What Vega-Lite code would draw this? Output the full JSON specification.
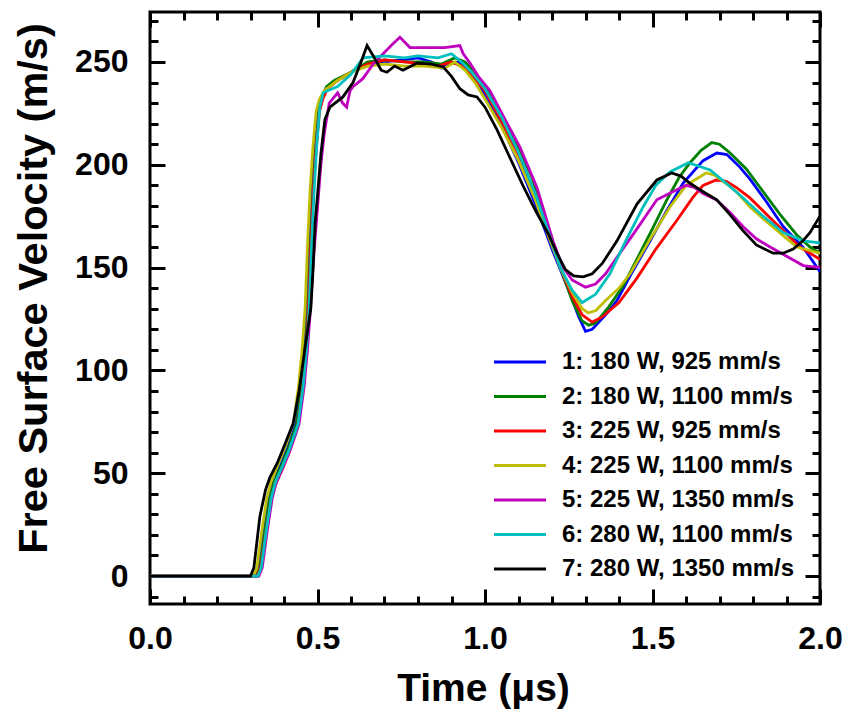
{
  "$schema": "https://vega.github.io/schema/vega-lite/v6.json",
  "width": 670,
  "height": 592,
  "autosize": {"type": "none"},
  "padding": {"left": 150, "top": 12, "right": 39, "bottom": 109},
  "background": "white",
  "config": {
    "view": {"stroke": "black", "strokeWidth": 3},
    "axis": {
      "domain": false, "grid": false, "tickColor": "black", "tickWidth": 3,
      "labelFont": "Liberation Sans", "labelFontWeight": "bold", "labelFontSize": 32, "labelColor": "black",
      "labelFlush": false, "labelOverlap": false, "labelBound": false,
      "titleFont": "Liberation Sans", "titleFontWeight": "bold", "titleFontSize": 39, "titleColor": "black"
    }
  },
  "datasets": {
    "curves": [
      {"s":"1: 180 W, 925 mm/s","t":0,"v":0},{"s":"1: 180 W, 925 mm/s","t":0.315,"v":0},{"s":"1: 180 W, 925 mm/s","t":0.325,"v":4},{"s":"1: 180 W, 925 mm/s","t":0.34,"v":22},{"s":"1: 180 W, 925 mm/s","t":0.355,"v":38},{"s":"1: 180 W, 925 mm/s","t":0.368,"v":46},{"s":"1: 180 W, 925 mm/s","t":0.39,"v":54},{"s":"1: 180 W, 925 mm/s","t":0.41,"v":62},{"s":"1: 180 W, 925 mm/s","t":0.435,"v":74},{"s":"1: 180 W, 925 mm/s","t":0.45,"v":92},{"s":"1: 180 W, 925 mm/s","t":0.46,"v":110},{"s":"1: 180 W, 925 mm/s","t":0.469,"v":130},{"s":"1: 180 W, 925 mm/s","t":0.476,"v":160},{"s":"1: 180 W, 925 mm/s","t":0.484,"v":188},{"s":"1: 180 W, 925 mm/s","t":0.492,"v":208},{"s":"1: 180 W, 925 mm/s","t":0.502,"v":226},{"s":"1: 180 W, 925 mm/s","t":0.512,"v":233},{"s":"1: 180 W, 925 mm/s","t":0.525,"v":237},{"s":"1: 180 W, 925 mm/s","t":0.55,"v":240},{"s":"1: 180 W, 925 mm/s","t":0.58,"v":243},{"s":"1: 180 W, 925 mm/s","t":0.61,"v":246},{"s":"1: 180 W, 925 mm/s","t":0.65,"v":249},{"s":"1: 180 W, 925 mm/s","t":0.7,"v":250},{"s":"1: 180 W, 925 mm/s","t":0.75,"v":251},{"s":"1: 180 W, 925 mm/s","t":0.8,"v":252},{"s":"1: 180 W, 925 mm/s","t":0.84,"v":250},{"s":"1: 180 W, 925 mm/s","t":0.87,"v":247},{"s":"1: 180 W, 925 mm/s","t":0.89,"v":249},{"s":"1: 180 W, 925 mm/s","t":0.92,"v":250},{"s":"1: 180 W, 925 mm/s","t":0.95,"v":246},{"s":"1: 180 W, 925 mm/s","t":0.98,"v":240},{"s":"1: 180 W, 925 mm/s","t":1.0,"v":234},{"s":"1: 180 W, 925 mm/s","t":1.05,"v":219},{"s":"1: 180 W, 925 mm/s","t":1.1,"v":201},{"s":"1: 180 W, 925 mm/s","t":1.15,"v":181},{"s":"1: 180 W, 925 mm/s","t":1.2,"v":159},{"s":"1: 180 W, 925 mm/s","t":1.225,"v":149},{"s":"1: 180 W, 925 mm/s","t":1.25,"v":139},{"s":"1: 180 W, 925 mm/s","t":1.28,"v":126},{"s":"1: 180 W, 925 mm/s","t":1.3,"v":119},{"s":"1: 180 W, 925 mm/s","t":1.32,"v":120},{"s":"1: 180 W, 925 mm/s","t":1.36,"v":127},{"s":"1: 180 W, 925 mm/s","t":1.394,"v":134},{"s":"1: 180 W, 925 mm/s","t":1.44,"v":148},{"s":"1: 180 W, 925 mm/s","t":1.493,"v":163},{"s":"1: 180 W, 925 mm/s","t":1.54,"v":177},{"s":"1: 180 W, 925 mm/s","t":1.591,"v":191},{"s":"1: 180 W, 925 mm/s","t":1.651,"v":202},{"s":"1: 180 W, 925 mm/s","t":1.692,"v":205.7},{"s":"1: 180 W, 925 mm/s","t":1.722,"v":205},{"s":"1: 180 W, 925 mm/s","t":1.76,"v":199},{"s":"1: 180 W, 925 mm/s","t":1.791,"v":193},{"s":"1: 180 W, 925 mm/s","t":1.84,"v":182},{"s":"1: 180 W, 925 mm/s","t":1.89,"v":170},{"s":"1: 180 W, 925 mm/s","t":1.949,"v":160},{"s":"1: 180 W, 925 mm/s","t":2.0,"v":148},

      {"s":"2: 180 W, 1100 mm/s","t":0,"v":0},{"s":"2: 180 W, 1100 mm/s","t":0.318,"v":0},{"s":"2: 180 W, 1100 mm/s","t":0.328,"v":4},{"s":"2: 180 W, 1100 mm/s","t":0.343,"v":22},{"s":"2: 180 W, 1100 mm/s","t":0.358,"v":38},{"s":"2: 180 W, 1100 mm/s","t":0.371,"v":46},{"s":"2: 180 W, 1100 mm/s","t":0.393,"v":54},{"s":"2: 180 W, 1100 mm/s","t":0.413,"v":62},{"s":"2: 180 W, 1100 mm/s","t":0.438,"v":74},{"s":"2: 180 W, 1100 mm/s","t":0.453,"v":92},{"s":"2: 180 W, 1100 mm/s","t":0.463,"v":110},{"s":"2: 180 W, 1100 mm/s","t":0.472,"v":130},{"s":"2: 180 W, 1100 mm/s","t":0.479,"v":160},{"s":"2: 180 W, 1100 mm/s","t":0.487,"v":188},{"s":"2: 180 W, 1100 mm/s","t":0.495,"v":208},{"s":"2: 180 W, 1100 mm/s","t":0.505,"v":226},{"s":"2: 180 W, 1100 mm/s","t":0.515,"v":233},{"s":"2: 180 W, 1100 mm/s","t":0.527,"v":238},{"s":"2: 180 W, 1100 mm/s","t":0.55,"v":241},{"s":"2: 180 W, 1100 mm/s","t":0.6,"v":245},{"s":"2: 180 W, 1100 mm/s","t":0.65,"v":250},{"s":"2: 180 W, 1100 mm/s","t":0.7,"v":251},{"s":"2: 180 W, 1100 mm/s","t":0.76,"v":250},{"s":"2: 180 W, 1100 mm/s","t":0.82,"v":250},{"s":"2: 180 W, 1100 mm/s","t":0.87,"v":249},{"s":"2: 180 W, 1100 mm/s","t":0.91,"v":252},{"s":"2: 180 W, 1100 mm/s","t":0.94,"v":250},{"s":"2: 180 W, 1100 mm/s","t":0.965,"v":246},{"s":"2: 180 W, 1100 mm/s","t":1.0,"v":238},{"s":"2: 180 W, 1100 mm/s","t":1.024,"v":231.5},{"s":"2: 180 W, 1100 mm/s","t":1.06,"v":221},{"s":"2: 180 W, 1100 mm/s","t":1.095,"v":210},{"s":"2: 180 W, 1100 mm/s","t":1.14,"v":194},{"s":"2: 180 W, 1100 mm/s","t":1.18,"v":174},{"s":"2: 180 W, 1100 mm/s","t":1.225,"v":150},{"s":"2: 180 W, 1100 mm/s","t":1.26,"v":134},{"s":"2: 180 W, 1100 mm/s","t":1.29,"v":124},{"s":"2: 180 W, 1100 mm/s","t":1.31,"v":122},{"s":"2: 180 W, 1100 mm/s","t":1.33,"v":123},{"s":"2: 180 W, 1100 mm/s","t":1.37,"v":131},{"s":"2: 180 W, 1100 mm/s","t":1.412,"v":141},{"s":"2: 180 W, 1100 mm/s","t":1.45,"v":153},{"s":"2: 180 W, 1100 mm/s","t":1.5,"v":169},{"s":"2: 180 W, 1100 mm/s","t":1.543,"v":183},{"s":"2: 180 W, 1100 mm/s","t":1.58,"v":194},{"s":"2: 180 W, 1100 mm/s","t":1.612,"v":201},{"s":"2: 180 W, 1100 mm/s","t":1.645,"v":207},{"s":"2: 180 W, 1100 mm/s","t":1.677,"v":210.8},{"s":"2: 180 W, 1100 mm/s","t":1.7,"v":210},{"s":"2: 180 W, 1100 mm/s","t":1.73,"v":206},{"s":"2: 180 W, 1100 mm/s","t":1.78,"v":198},{"s":"2: 180 W, 1100 mm/s","t":1.83,"v":187},{"s":"2: 180 W, 1100 mm/s","t":1.88,"v":176},{"s":"2: 180 W, 1100 mm/s","t":1.93,"v":166},{"s":"2: 180 W, 1100 mm/s","t":1.97,"v":160},{"s":"2: 180 W, 1100 mm/s","t":2.0,"v":157},

      {"s":"3: 225 W, 925 mm/s","t":0,"v":0},{"s":"3: 225 W, 925 mm/s","t":0.32,"v":0},{"s":"3: 225 W, 925 mm/s","t":0.33,"v":4},{"s":"3: 225 W, 925 mm/s","t":0.345,"v":20},{"s":"3: 225 W, 925 mm/s","t":0.36,"v":36},{"s":"3: 225 W, 925 mm/s","t":0.373,"v":44},{"s":"3: 225 W, 925 mm/s","t":0.395,"v":52},{"s":"3: 225 W, 925 mm/s","t":0.415,"v":60},{"s":"3: 225 W, 925 mm/s","t":0.44,"v":72},{"s":"3: 225 W, 925 mm/s","t":0.455,"v":90},{"s":"3: 225 W, 925 mm/s","t":0.465,"v":108},{"s":"3: 225 W, 925 mm/s","t":0.473,"v":130},{"s":"3: 225 W, 925 mm/s","t":0.48,"v":160},{"s":"3: 225 W, 925 mm/s","t":0.488,"v":188},{"s":"3: 225 W, 925 mm/s","t":0.496,"v":208},{"s":"3: 225 W, 925 mm/s","t":0.506,"v":226},{"s":"3: 225 W, 925 mm/s","t":0.516,"v":232},{"s":"3: 225 W, 925 mm/s","t":0.53,"v":237},{"s":"3: 225 W, 925 mm/s","t":0.56,"v":241},{"s":"3: 225 W, 925 mm/s","t":0.6,"v":245},{"s":"3: 225 W, 925 mm/s","t":0.65,"v":249},{"s":"3: 225 W, 925 mm/s","t":0.7,"v":251},{"s":"3: 225 W, 925 mm/s","t":0.76,"v":250},{"s":"3: 225 W, 925 mm/s","t":0.82,"v":249},{"s":"3: 225 W, 925 mm/s","t":0.86,"v":248},{"s":"3: 225 W, 925 mm/s","t":0.9,"v":250},{"s":"3: 225 W, 925 mm/s","t":0.93,"v":248},{"s":"3: 225 W, 925 mm/s","t":0.96,"v":244},{"s":"3: 225 W, 925 mm/s","t":1.0,"v":236},{"s":"3: 225 W, 925 mm/s","t":1.05,"v":221},{"s":"3: 225 W, 925 mm/s","t":1.1,"v":205},{"s":"3: 225 W, 925 mm/s","t":1.15,"v":186},{"s":"3: 225 W, 925 mm/s","t":1.19,"v":166},{"s":"3: 225 W, 925 mm/s","t":1.225,"v":150},{"s":"3: 225 W, 925 mm/s","t":1.26,"v":136},{"s":"3: 225 W, 925 mm/s","t":1.29,"v":127},{"s":"3: 225 W, 925 mm/s","t":1.32,"v":123.5},{"s":"3: 225 W, 925 mm/s","t":1.35,"v":126},{"s":"3: 225 W, 925 mm/s","t":1.4,"v":133},{"s":"3: 225 W, 925 mm/s","t":1.454,"v":145},{"s":"3: 225 W, 925 mm/s","t":1.51,"v":159},{"s":"3: 225 W, 925 mm/s","t":1.573,"v":173},{"s":"3: 225 W, 925 mm/s","t":1.62,"v":184},{"s":"3: 225 W, 925 mm/s","t":1.651,"v":190},{"s":"3: 225 W, 925 mm/s","t":1.69,"v":192.6},{"s":"3: 225 W, 925 mm/s","t":1.72,"v":192},{"s":"3: 225 W, 925 mm/s","t":1.75,"v":189},{"s":"3: 225 W, 925 mm/s","t":1.79,"v":184},{"s":"3: 225 W, 925 mm/s","t":1.84,"v":176},{"s":"3: 225 W, 925 mm/s","t":1.89,"v":168},{"s":"3: 225 W, 925 mm/s","t":1.94,"v":160},{"s":"3: 225 W, 925 mm/s","t":2.0,"v":154},

      {"s":"4: 225 W, 1100 mm/s","t":0,"v":0},{"s":"4: 225 W, 1100 mm/s","t":0.309,"v":0},{"s":"4: 225 W, 1100 mm/s","t":0.319,"v":4},{"s":"4: 225 W, 1100 mm/s","t":0.334,"v":22},{"s":"4: 225 W, 1100 mm/s","t":0.349,"v":38},{"s":"4: 225 W, 1100 mm/s","t":0.362,"v":46},{"s":"4: 225 W, 1100 mm/s","t":0.384,"v":55},{"s":"4: 225 W, 1100 mm/s","t":0.404,"v":63},{"s":"4: 225 W, 1100 mm/s","t":0.429,"v":75},{"s":"4: 225 W, 1100 mm/s","t":0.444,"v":93},{"s":"4: 225 W, 1100 mm/s","t":0.454,"v":110},{"s":"4: 225 W, 1100 mm/s","t":0.463,"v":130},{"s":"4: 225 W, 1100 mm/s","t":0.47,"v":160},{"s":"4: 225 W, 1100 mm/s","t":0.478,"v":188},{"s":"4: 225 W, 1100 mm/s","t":0.486,"v":208},{"s":"4: 225 W, 1100 mm/s","t":0.496,"v":226},{"s":"4: 225 W, 1100 mm/s","t":0.506,"v":232},{"s":"4: 225 W, 1100 mm/s","t":0.52,"v":236},{"s":"4: 225 W, 1100 mm/s","t":0.56,"v":241},{"s":"4: 225 W, 1100 mm/s","t":0.6,"v":245},{"s":"4: 225 W, 1100 mm/s","t":0.65,"v":248},{"s":"4: 225 W, 1100 mm/s","t":0.7,"v":249},{"s":"4: 225 W, 1100 mm/s","t":0.76,"v":248},{"s":"4: 225 W, 1100 mm/s","t":0.82,"v":248},{"s":"4: 225 W, 1100 mm/s","t":0.88,"v":247},{"s":"4: 225 W, 1100 mm/s","t":0.91,"v":250},{"s":"4: 225 W, 1100 mm/s","t":0.94,"v":246},{"s":"4: 225 W, 1100 mm/s","t":0.97,"v":240},{"s":"4: 225 W, 1100 mm/s","t":1.0,"v":232},{"s":"4: 225 W, 1100 mm/s","t":1.05,"v":218},{"s":"4: 225 W, 1100 mm/s","t":1.1,"v":202},{"s":"4: 225 W, 1100 mm/s","t":1.15,"v":183},{"s":"4: 225 W, 1100 mm/s","t":1.19,"v":165},{"s":"4: 225 W, 1100 mm/s","t":1.225,"v":150},{"s":"4: 225 W, 1100 mm/s","t":1.26,"v":138},{"s":"4: 225 W, 1100 mm/s","t":1.29,"v":130},{"s":"4: 225 W, 1100 mm/s","t":1.308,"v":128},{"s":"4: 225 W, 1100 mm/s","t":1.33,"v":129},{"s":"4: 225 W, 1100 mm/s","t":1.36,"v":134},{"s":"4: 225 W, 1100 mm/s","t":1.4,"v":140},{"s":"4: 225 W, 1100 mm/s","t":1.433,"v":147},{"s":"4: 225 W, 1100 mm/s","t":1.49,"v":163},{"s":"4: 225 W, 1100 mm/s","t":1.552,"v":179.5},{"s":"4: 225 W, 1100 mm/s","t":1.6,"v":190},{"s":"4: 225 W, 1100 mm/s","t":1.66,"v":196},{"s":"4: 225 W, 1100 mm/s","t":1.685,"v":195},{"s":"4: 225 W, 1100 mm/s","t":1.71,"v":192},{"s":"4: 225 W, 1100 mm/s","t":1.75,"v":187},{"s":"4: 225 W, 1100 mm/s","t":1.791,"v":179.5},{"s":"4: 225 W, 1100 mm/s","t":1.85,"v":171},{"s":"4: 225 W, 1100 mm/s","t":1.931,"v":160},{"s":"4: 225 W, 1100 mm/s","t":2.0,"v":157},

      {"s":"5: 225 W, 1350 mm/s","t":0,"v":0},{"s":"5: 225 W, 1350 mm/s","t":0.325,"v":0},{"s":"5: 225 W, 1350 mm/s","t":0.335,"v":4},{"s":"5: 225 W, 1350 mm/s","t":0.35,"v":22},{"s":"5: 225 W, 1350 mm/s","t":0.365,"v":38},{"s":"5: 225 W, 1350 mm/s","t":0.378,"v":46},{"s":"5: 225 W, 1350 mm/s","t":0.4,"v":54},{"s":"5: 225 W, 1350 mm/s","t":0.42,"v":62},{"s":"5: 225 W, 1350 mm/s","t":0.445,"v":74},{"s":"5: 225 W, 1350 mm/s","t":0.46,"v":92},{"s":"5: 225 W, 1350 mm/s","t":0.47,"v":110},{"s":"5: 225 W, 1350 mm/s","t":0.479,"v":130},{"s":"5: 225 W, 1350 mm/s","t":0.487,"v":152},{"s":"5: 225 W, 1350 mm/s","t":0.498,"v":175},{"s":"5: 225 W, 1350 mm/s","t":0.51,"v":200},{"s":"5: 225 W, 1350 mm/s","t":0.52,"v":215},{"s":"5: 225 W, 1350 mm/s","t":0.535,"v":230},{"s":"5: 225 W, 1350 mm/s","t":0.56,"v":235},{"s":"5: 225 W, 1350 mm/s","t":0.575,"v":230},{"s":"5: 225 W, 1350 mm/s","t":0.587,"v":228},{"s":"5: 225 W, 1350 mm/s","t":0.597,"v":236},{"s":"5: 225 W, 1350 mm/s","t":0.606,"v":238},{"s":"5: 225 W, 1350 mm/s","t":0.636,"v":242},{"s":"5: 225 W, 1350 mm/s","t":0.666,"v":249},{"s":"5: 225 W, 1350 mm/s","t":0.696,"v":254},{"s":"5: 225 W, 1350 mm/s","t":0.72,"v":258},{"s":"5: 225 W, 1350 mm/s","t":0.746,"v":262},{"s":"5: 225 W, 1350 mm/s","t":0.776,"v":257},{"s":"5: 225 W, 1350 mm/s","t":0.836,"v":257},{"s":"5: 225 W, 1350 mm/s","t":0.88,"v":257},{"s":"5: 225 W, 1350 mm/s","t":0.925,"v":258},{"s":"5: 225 W, 1350 mm/s","t":0.935,"v":254},{"s":"5: 225 W, 1350 mm/s","t":0.955,"v":249.5},{"s":"5: 225 W, 1350 mm/s","t":0.98,"v":243},{"s":"5: 225 W, 1350 mm/s","t":1.015,"v":236},{"s":"5: 225 W, 1350 mm/s","t":1.06,"v":222},{"s":"5: 225 W, 1350 mm/s","t":1.104,"v":208.7},{"s":"5: 225 W, 1350 mm/s","t":1.155,"v":189},{"s":"5: 225 W, 1350 mm/s","t":1.203,"v":163},{"s":"5: 225 W, 1350 mm/s","t":1.23,"v":151},{"s":"5: 225 W, 1350 mm/s","t":1.26,"v":144},{"s":"5: 225 W, 1350 mm/s","t":1.3,"v":140.5},{"s":"5: 225 W, 1350 mm/s","t":1.33,"v":142},{"s":"5: 225 W, 1350 mm/s","t":1.36,"v":147},{"s":"5: 225 W, 1350 mm/s","t":1.394,"v":155},{"s":"5: 225 W, 1350 mm/s","t":1.45,"v":168},{"s":"5: 225 W, 1350 mm/s","t":1.513,"v":183},{"s":"5: 225 W, 1350 mm/s","t":1.55,"v":186},{"s":"5: 225 W, 1350 mm/s","t":1.6,"v":190},{"s":"5: 225 W, 1350 mm/s","t":1.625,"v":189},{"s":"5: 225 W, 1350 mm/s","t":1.651,"v":186},{"s":"5: 225 W, 1350 mm/s","t":1.69,"v":183},{"s":"5: 225 W, 1350 mm/s","t":1.73,"v":177},{"s":"5: 225 W, 1350 mm/s","t":1.77,"v":170},{"s":"5: 225 W, 1350 mm/s","t":1.81,"v":164},{"s":"5: 225 W, 1350 mm/s","t":1.851,"v":160},{"s":"5: 225 W, 1350 mm/s","t":1.95,"v":151},{"s":"5: 225 W, 1350 mm/s","t":2.0,"v":150},

      {"s":"6: 280 W, 1100 mm/s","t":0,"v":0},{"s":"6: 280 W, 1100 mm/s","t":0.322,"v":0},{"s":"6: 280 W, 1100 mm/s","t":0.332,"v":4},{"s":"6: 280 W, 1100 mm/s","t":0.347,"v":22},{"s":"6: 280 W, 1100 mm/s","t":0.362,"v":38},{"s":"6: 280 W, 1100 mm/s","t":0.375,"v":46},{"s":"6: 280 W, 1100 mm/s","t":0.397,"v":54},{"s":"6: 280 W, 1100 mm/s","t":0.417,"v":62},{"s":"6: 280 W, 1100 mm/s","t":0.442,"v":74},{"s":"6: 280 W, 1100 mm/s","t":0.457,"v":92},{"s":"6: 280 W, 1100 mm/s","t":0.467,"v":110},{"s":"6: 280 W, 1100 mm/s","t":0.475,"v":130},{"s":"6: 280 W, 1100 mm/s","t":0.482,"v":160},{"s":"6: 280 W, 1100 mm/s","t":0.49,"v":188},{"s":"6: 280 W, 1100 mm/s","t":0.498,"v":210},{"s":"6: 280 W, 1100 mm/s","t":0.507,"v":228},{"s":"6: 280 W, 1100 mm/s","t":0.517,"v":235},{"s":"6: 280 W, 1100 mm/s","t":0.53,"v":236},{"s":"6: 280 W, 1100 mm/s","t":0.56,"v":238},{"s":"6: 280 W, 1100 mm/s","t":0.6,"v":244},{"s":"6: 280 W, 1100 mm/s","t":0.636,"v":252},{"s":"6: 280 W, 1100 mm/s","t":0.7,"v":253},{"s":"6: 280 W, 1100 mm/s","t":0.76,"v":252},{"s":"6: 280 W, 1100 mm/s","t":0.8,"v":253},{"s":"6: 280 W, 1100 mm/s","t":0.86,"v":252},{"s":"6: 280 W, 1100 mm/s","t":0.9,"v":254},{"s":"6: 280 W, 1100 mm/s","t":0.93,"v":250},{"s":"6: 280 W, 1100 mm/s","t":0.96,"v":245},{"s":"6: 280 W, 1100 mm/s","t":1.0,"v":237},{"s":"6: 280 W, 1100 mm/s","t":1.05,"v":223},{"s":"6: 280 W, 1100 mm/s","t":1.1,"v":206},{"s":"6: 280 W, 1100 mm/s","t":1.15,"v":186},{"s":"6: 280 W, 1100 mm/s","t":1.19,"v":167},{"s":"6: 280 W, 1100 mm/s","t":1.225,"v":150},{"s":"6: 280 W, 1100 mm/s","t":1.26,"v":139},{"s":"6: 280 W, 1100 mm/s","t":1.29,"v":133},{"s":"6: 280 W, 1100 mm/s","t":1.33,"v":137},{"s":"6: 280 W, 1100 mm/s","t":1.373,"v":147},{"s":"6: 280 W, 1100 mm/s","t":1.42,"v":163},{"s":"6: 280 W, 1100 mm/s","t":1.472,"v":179.5},{"s":"6: 280 W, 1100 mm/s","t":1.51,"v":190},{"s":"6: 280 W, 1100 mm/s","t":1.552,"v":196.5},{"s":"6: 280 W, 1100 mm/s","t":1.607,"v":201},{"s":"6: 280 W, 1100 mm/s","t":1.672,"v":197.5},{"s":"6: 280 W, 1100 mm/s","t":1.72,"v":191},{"s":"6: 280 W, 1100 mm/s","t":1.77,"v":184},{"s":"6: 280 W, 1100 mm/s","t":1.83,"v":175},{"s":"6: 280 W, 1100 mm/s","t":1.89,"v":167},{"s":"6: 280 W, 1100 mm/s","t":1.95,"v":163},{"s":"6: 280 W, 1100 mm/s","t":2.0,"v":162},

      {"s":"7: 280 W, 1350 mm/s","t":0,"v":0},{"s":"7: 280 W, 1350 mm/s","t":0.3,"v":0},{"s":"7: 280 W, 1350 mm/s","t":0.31,"v":4},{"s":"7: 280 W, 1350 mm/s","t":0.328,"v":29},{"s":"7: 280 W, 1350 mm/s","t":0.345,"v":42},{"s":"7: 280 W, 1350 mm/s","t":0.358,"v":48},{"s":"7: 280 W, 1350 mm/s","t":0.38,"v":55},{"s":"7: 280 W, 1350 mm/s","t":0.4,"v":63},{"s":"7: 280 W, 1350 mm/s","t":0.427,"v":74},{"s":"7: 280 W, 1350 mm/s","t":0.445,"v":90},{"s":"7: 280 W, 1350 mm/s","t":0.462,"v":110},{"s":"7: 280 W, 1350 mm/s","t":0.48,"v":130},{"s":"7: 280 W, 1350 mm/s","t":0.487,"v":150},{"s":"7: 280 W, 1350 mm/s","t":0.493,"v":172},{"s":"7: 280 W, 1350 mm/s","t":0.5,"v":185},{"s":"7: 280 W, 1350 mm/s","t":0.51,"v":205},{"s":"7: 280 W, 1350 mm/s","t":0.522,"v":222},{"s":"7: 280 W, 1350 mm/s","t":0.537,"v":228},{"s":"7: 280 W, 1350 mm/s","t":0.576,"v":233},{"s":"7: 280 W, 1350 mm/s","t":0.606,"v":240},{"s":"7: 280 W, 1350 mm/s","t":0.63,"v":250},{"s":"7: 280 W, 1350 mm/s","t":0.648,"v":258},{"s":"7: 280 W, 1350 mm/s","t":0.67,"v":252},{"s":"7: 280 W, 1350 mm/s","t":0.69,"v":246},{"s":"7: 280 W, 1350 mm/s","t":0.707,"v":245},{"s":"7: 280 W, 1350 mm/s","t":0.73,"v":248},{"s":"7: 280 W, 1350 mm/s","t":0.755,"v":246},{"s":"7: 280 W, 1350 mm/s","t":0.78,"v":248},{"s":"7: 280 W, 1350 mm/s","t":0.797,"v":249.5},{"s":"7: 280 W, 1350 mm/s","t":0.84,"v":249},{"s":"7: 280 W, 1350 mm/s","t":0.875,"v":247.6},{"s":"7: 280 W, 1350 mm/s","t":0.9,"v":243},{"s":"7: 280 W, 1350 mm/s","t":0.925,"v":237},{"s":"7: 280 W, 1350 mm/s","t":0.95,"v":234},{"s":"7: 280 W, 1350 mm/s","t":0.976,"v":233},{"s":"7: 280 W, 1350 mm/s","t":1.0,"v":228},{"s":"7: 280 W, 1350 mm/s","t":1.036,"v":217},{"s":"7: 280 W, 1350 mm/s","t":1.07,"v":205},{"s":"7: 280 W, 1350 mm/s","t":1.113,"v":190},{"s":"7: 280 W, 1350 mm/s","t":1.15,"v":178},{"s":"7: 280 W, 1350 mm/s","t":1.19,"v":166},{"s":"7: 280 W, 1350 mm/s","t":1.215,"v":157},{"s":"7: 280 W, 1350 mm/s","t":1.24,"v":149},{"s":"7: 280 W, 1350 mm/s","t":1.265,"v":146},{"s":"7: 280 W, 1350 mm/s","t":1.293,"v":145.5},{"s":"7: 280 W, 1350 mm/s","t":1.32,"v":147},{"s":"7: 280 W, 1350 mm/s","t":1.35,"v":152},{"s":"7: 280 W, 1350 mm/s","t":1.394,"v":163},{"s":"7: 280 W, 1350 mm/s","t":1.454,"v":181},{"s":"7: 280 W, 1350 mm/s","t":1.513,"v":192.6},{"s":"7: 280 W, 1350 mm/s","t":1.557,"v":196},{"s":"7: 280 W, 1350 mm/s","t":1.585,"v":194.5},{"s":"7: 280 W, 1350 mm/s","t":1.612,"v":191},{"s":"7: 280 W, 1350 mm/s","t":1.65,"v":187},{"s":"7: 280 W, 1350 mm/s","t":1.692,"v":183},{"s":"7: 280 W, 1350 mm/s","t":1.73,"v":176},{"s":"7: 280 W, 1350 mm/s","t":1.77,"v":168},{"s":"7: 280 W, 1350 mm/s","t":1.81,"v":161},{"s":"7: 280 W, 1350 mm/s","t":1.86,"v":157},{"s":"7: 280 W, 1350 mm/s","t":1.89,"v":157},{"s":"7: 280 W, 1350 mm/s","t":1.92,"v":159},{"s":"7: 280 W, 1350 mm/s","t":1.949,"v":163},{"s":"7: 280 W, 1350 mm/s","t":1.97,"v":167},{"s":"7: 280 W, 1350 mm/s","t":2.0,"v":175}
    ],
    "anchor": [{"t": 0, "v": 0}]
  },
  "layer": [
    {
      "data": {"name": "anchor"},
      "mark": {"type": "point", "opacity": 0},
      "encoding": {
        "x": {"field": "t", "type": "quantitative", "scale": {"domain": [0, 2], "nice": false, "zero": false},
              "axis": {"orient": "bottom", "values": [0,0.1,0.2,0.3,0.4,0.5,0.6,0.7,0.8,0.9,1.0,1.1,1.2,1.3,1.4,1.5,1.6,1.7,1.8,1.9,2.0], "labels": false, "tickSize": -8, "title": null}},
        "y": {"field": "v", "type": "quantitative", "scale": {"domain": [-13.6, 274.3], "nice": false, "zero": false},
              "axis": {"orient": "left", "values": [-10,0,10,20,30,40,50,60,70,80,90,100,110,120,130,140,150,160,170,180,190,200,210,220,230,240,250,260,270], "labels": false, "tickSize": -8, "title": null}}
      }
    },
    {
      "data": {"name": "anchor"},
      "mark": {"type": "point", "opacity": 0},
      "encoding": {
        "x": {"field": "t", "type": "quantitative", "scale": {"domain": [0, 2], "nice": false, "zero": false},
              "axis": {"orient": "top", "values": [0,0.1,0.2,0.3,0.4,0.5,0.6,0.7,0.8,0.9,1.0,1.1,1.2,1.3,1.4,1.5,1.6,1.7,1.8,1.9,2.0], "labels": false, "tickSize": -8, "title": null}},
        "y": {"field": "v", "type": "quantitative", "scale": {"domain": [-13.6, 274.3], "nice": false, "zero": false},
              "axis": {"orient": "right", "values": [-10,0,10,20,30,40,50,60,70,80,90,100,110,120,130,140,150,160,170,180,190,200,210,220,230,240,250,260,270], "labels": false, "tickSize": -8, "title": null}}
      }
    },
    {
      "data": {"name": "anchor"},
      "mark": {"type": "point", "opacity": 0},
      "encoding": {
        "x": {"field": "t", "type": "quantitative", "scale": {"domain": [0, 2], "nice": false, "zero": false},
              "axis": {"orient": "top", "values": [0, 0.5, 1, 1.5, 2], "labels": false, "tickSize": -15, "title": null}},
        "y": {"field": "v", "type": "quantitative", "scale": {"domain": [-13.6, 274.3], "nice": false, "zero": false},
              "axis": {"orient": "right", "values": [0, 50, 100, 150, 200, 250], "labels": false, "tickSize": -15, "title": null}}
      }
    },
    {
      "data": {"name": "curves"},
      "mark": {"type": "line", "strokeWidth": 2.8, "clip": true},
      "encoding": {
        "x": {"field": "t", "type": "quantitative", "scale": {"domain": [0, 2], "nice": false, "zero": false},
              "axis": {"orient": "bottom", "values": [0, 0.5, 1, 1.5, 2], "format": ".1f", "tickSize": -15, "labelPadding": 34,
                       "title": "Time (μs)", "titleX": 333, "titleY": 96, "titleBaseline": "alphabetic", "titleAlign": "center"}},
        "y": {"field": "v", "type": "quantitative", "scale": {"domain": [-13.6, 274.3], "nice": false, "zero": false},
              "axis": {"orient": "left", "values": [0, 50, 100, 150, 200, 250], "format": "d", "tickSize": -15, "labelPadding": 37,
                       "title": "Free Surface Velocity (m/s)", "titleFontSize": 41.5, "titleX": -104, "titleY": 276, "titleAngle": -90, "titleBaseline": "alphabetic", "titleAlign": "center"}},
        "color": {"field": "s", "type": "nominal",
                  "scale": {"domain": ["1: 180 W, 925 mm/s", "2: 180 W, 1100 mm/s", "3: 225 W, 925 mm/s", "4: 225 W, 1100 mm/s", "5: 225 W, 1350 mm/s", "6: 280 W, 1100 mm/s", "7: 280 W, 1350 mm/s"],
                            "range": ["#0000ff", "#008000", "#ff0000", "#bfbf00", "#bf00bf", "#00bfbf", "#000000"]},
                  "legend": {"orient": "none", "legendX": 358, "legendY": 338, "title": null,
                             "symbolType": "M-2.5,0H2.5", "symbolSize": 433, "symbolStrokeWidth": 3,
                             "labelFont": "Liberation Sans", "labelFontSize": 24, "labelFontWeight": "bold", "labelColor": "black",
                             "labelOffset": 30, "rowPadding": 10.5, "padding": 0, "labelLimit": 0}},
        "order": {"field": "s", "type": "nominal"}
      }
    }
  ],
  "resolve": {"axis": {"x": "independent", "y": "independent"}}
}
